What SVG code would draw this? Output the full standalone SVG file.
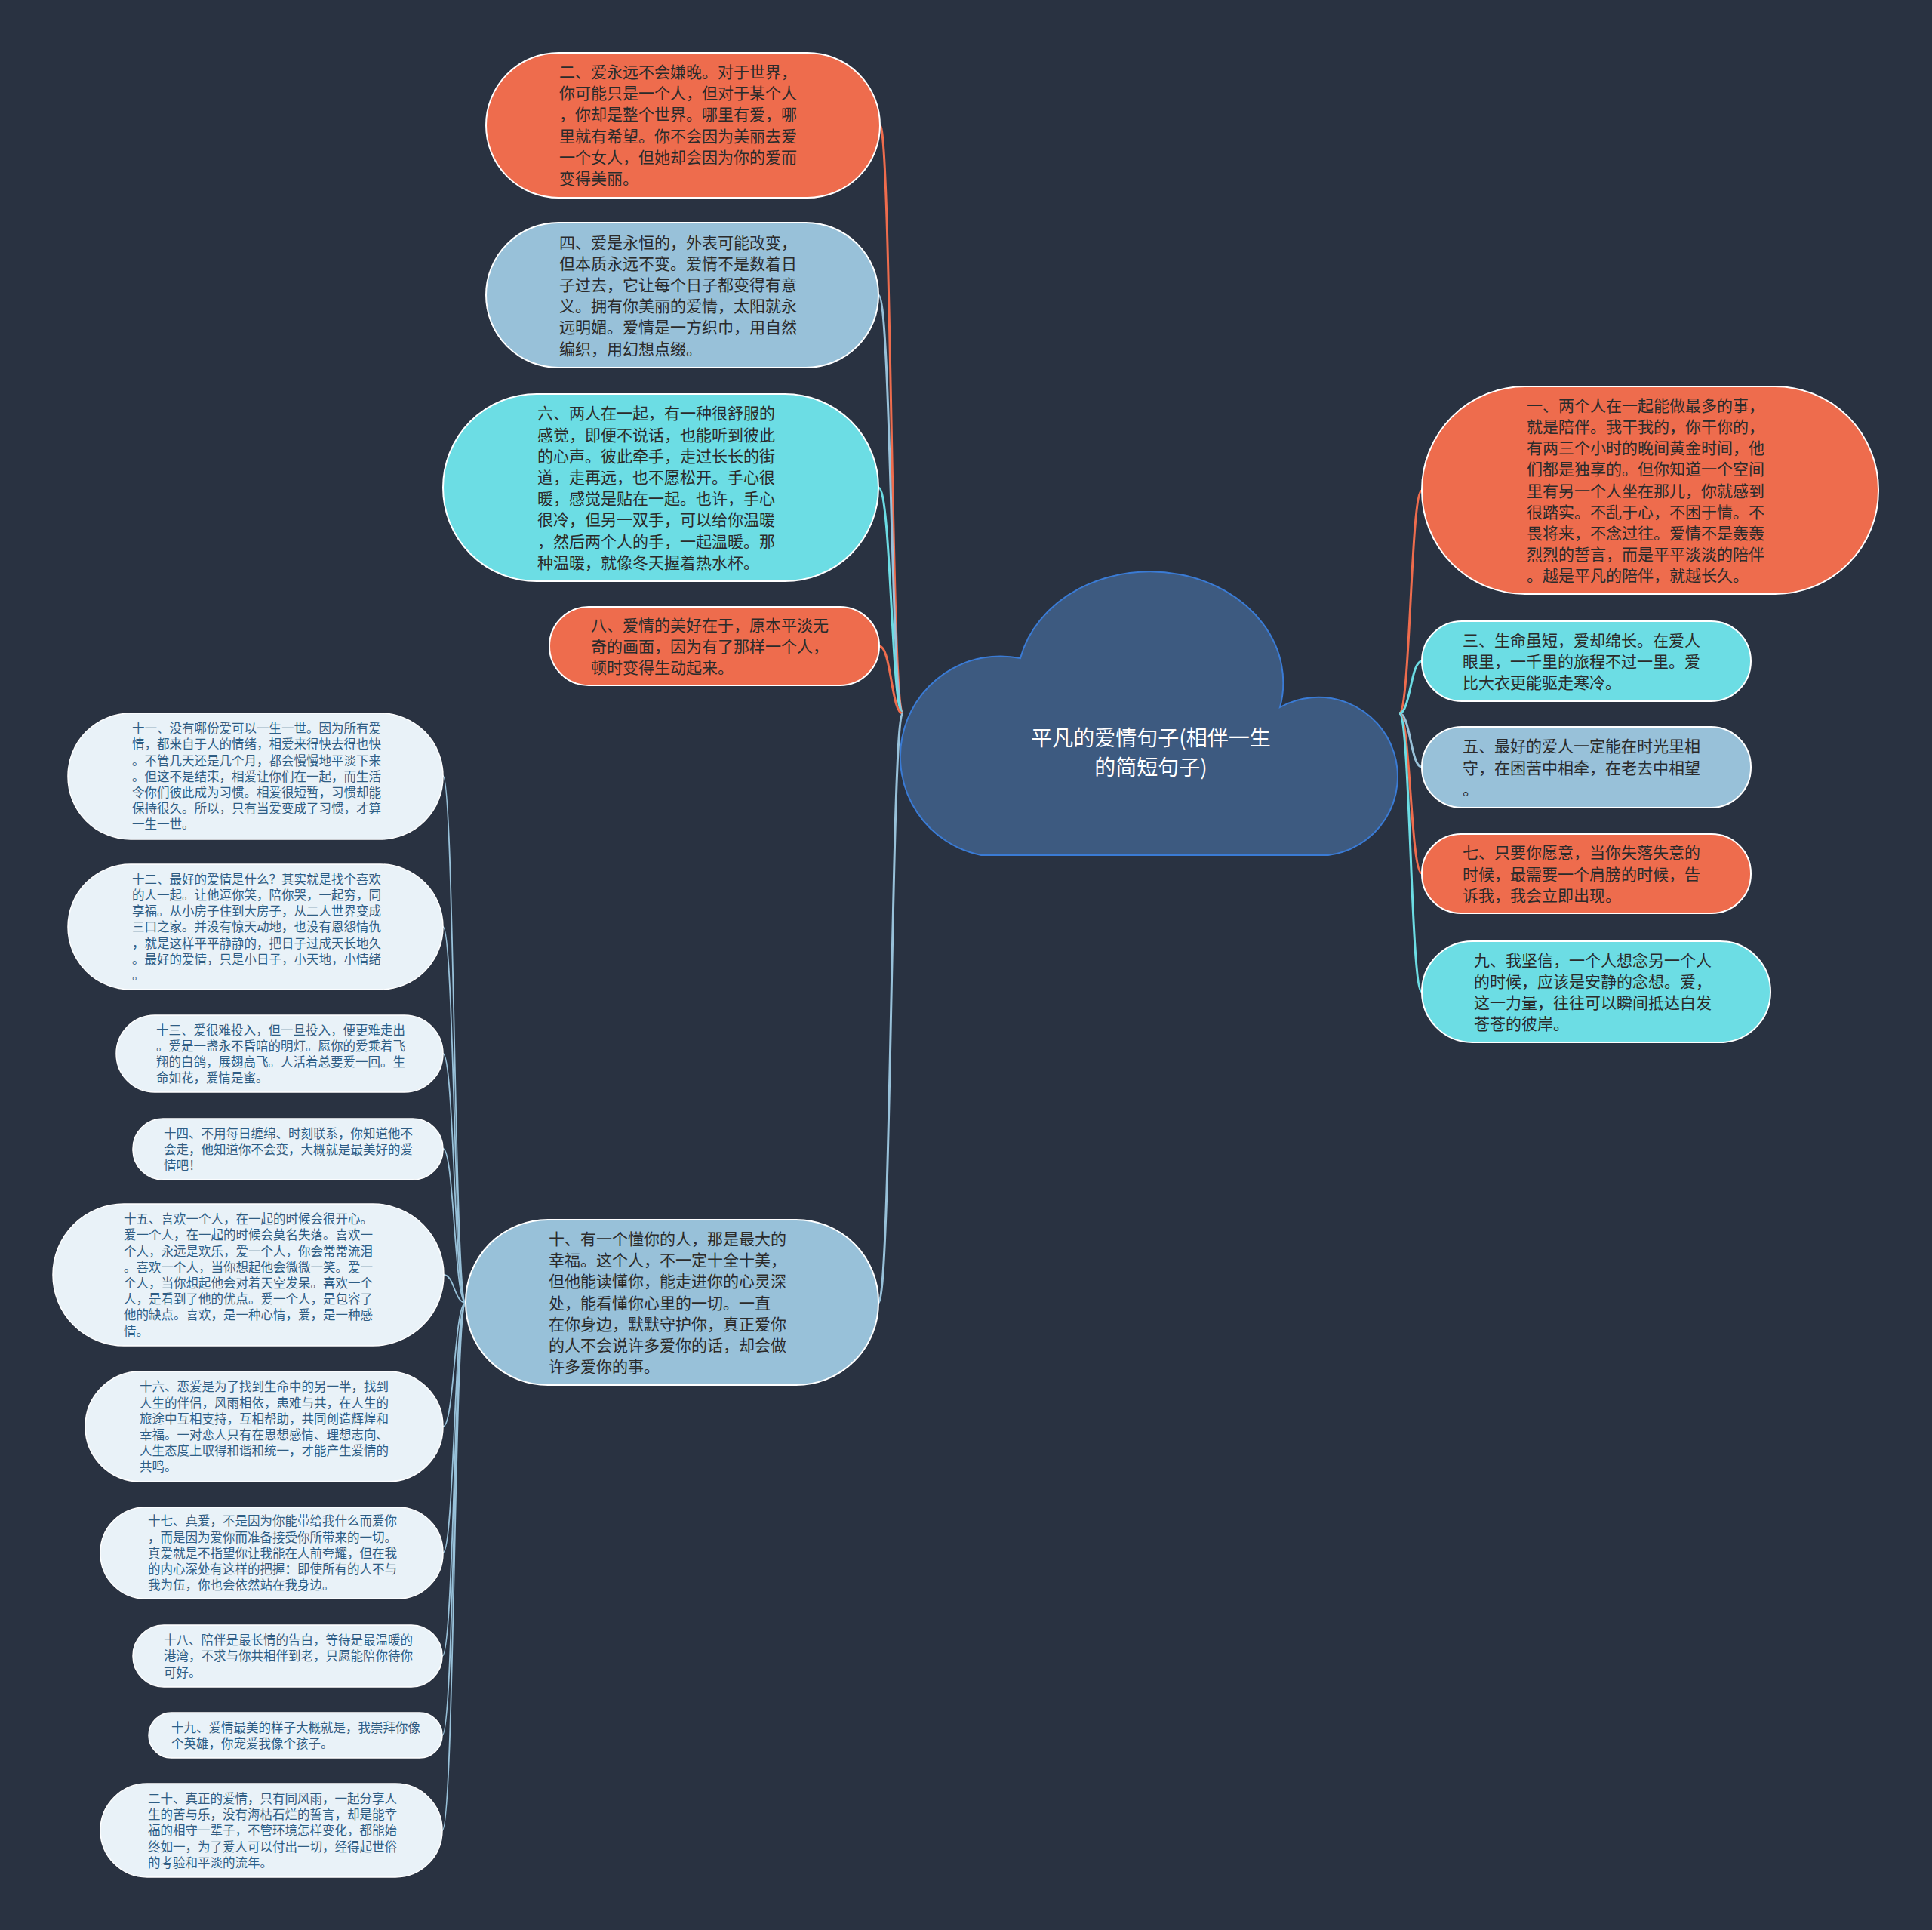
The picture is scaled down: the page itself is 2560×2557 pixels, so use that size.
<svg xmlns="http://www.w3.org/2000/svg" width="2560" height="2557" viewBox="0 0 2560 2557">
<style>
text{font-family:"Noto Sans CJK SC","Noto Sans",sans-serif}
.t{font-size:21px;fill:#2b2b2b}
.s{font-size:16.5px;fill:#2f5d84}
.c{font-size:28px;fill:#ffffff}
.or{fill:#ee6c4d;stroke:#ffffff;stroke-width:2}
.lb{fill:#98c1d9;stroke:#ffffff;stroke-width:2}
.cy{fill:#6cdde4;stroke:#ffffff;stroke-width:2}
.wh{fill:#e9f2f8;stroke:#ffffff;stroke-width:1.5}
.k{fill:none;stroke-width:3}
.ks{fill:none;stroke:#98c1d9;stroke-width:1.8}
</style>
<rect width="2560" height="2557" fill="#293241"/>
<g id="connectors">
<path class="k" stroke="#ee6c4d" d="M1196 945 C1181 945,1181 166,1166 166"/>
<path class="k" stroke="#98c1d9" d="M1196 945 C1181 945,1181 391,1164 391"/>
<path class="k" stroke="#6cdde4" d="M1196 945 C1181 945,1181 646,1164 646"/>
<path class="k" stroke="#ee6c4d" d="M1196 945 C1181 945,1181 856,1165 856"/>
<path class="k" stroke="#98c1d9" d="M1196 945 C1181 945,1181 1726,1164 1726"/>
<path class="k" stroke="#ee6c4d" d="M1854 945 C1869 945,1869 650,1884 650"/>
<path class="k" stroke="#6cdde4" d="M1854 945 C1869 945,1869 876,1884 876"/>
<path class="k" stroke="#98c1d9" d="M1854 945 C1869 945,1869 1016,1884 1016"/>
<path class="k" stroke="#ee6c4d" d="M1854 945 C1869 945,1869 1157,1884 1157"/>
<path class="k" stroke="#6cdde4" d="M1854 945 C1869 945,1869 1314,1884 1314"/>
<path class="ks" d="M617 1726 C602 1726,602 1028,587 1028"/>
<path class="ks" d="M617 1726 C602 1726,602 1228,587 1228"/>
<path class="ks" d="M617 1726 C602 1726,602 1396,587 1396"/>
<path class="ks" d="M617 1726 C602 1726,602 1522,587 1522"/>
<path class="ks" d="M617 1726 C602 1726,602 1689,588 1689"/>
<path class="ks" d="M617 1726 C602 1726,602 1890,587 1890"/>
<path class="ks" d="M617 1726 C602 1726,602 2057,587 2057"/>
<path class="ks" d="M617 1726 C602 1726,602 2194,586 2194"/>
<path class="ks" d="M617 1726 C602 1726,602 2299,586 2299"/>
<path class="ks" d="M617 1726 C602 1726,602 2425,586 2425"/>
</g>
<g id="root">
<path d="M1300 1133 A133 133 0 1 1 1352 872 A176 147 0 0 1 1696 937 A105 105 0 1 1 1760 1133 Z" fill="#3d5a80" stroke="#3a7bd5" stroke-width="2"/>
<text class="c" text-anchor="middle"><tspan x="1525" y="988">平凡的爱情句子(相伴一生</tspan><tspan x="1525" y="1027">的简短句子)</tspan></text>
</g>
<g id="n2">
<rect class="or" x="644" y="70" width="522" height="192" rx="96"/>
<text class="t"><tspan x="741" y="103">二、爱永远不会嫌晚。对于世界，</tspan><tspan x="741" dy="28.2">你可能只是一个人，但对于某个人</tspan><tspan x="741" dy="28.2">，你却是整个世界。哪里有爱，哪</tspan><tspan x="741" dy="28.2">里就有希望。你不会因为美丽去爱</tspan><tspan x="741" dy="28.2">一个女人，但她却会因为你的爱而</tspan><tspan x="741" dy="28.2">变得美丽。</tspan></text>
</g>
<g id="n4">
<rect class="lb" x="644" y="295" width="520" height="192" rx="96"/>
<text class="t"><tspan x="741" y="328.5">四、爱是永恒的，外表可能改变，</tspan><tspan x="741" dy="28.2">但本质永远不变。爱情不是数着日</tspan><tspan x="741" dy="28.2">子过去，它让每个日子都变得有意</tspan><tspan x="741" dy="28.2">义。拥有你美丽的爱情，太阳就永</tspan><tspan x="741" dy="28.2">远明媚。爱情是一方织巾，用自然</tspan><tspan x="741" dy="28.2">编织，用幻想点缀。</tspan></text>
</g>
<g id="n6">
<rect class="cy" x="587" y="522" width="577" height="248" rx="124"/>
<text class="t"><tspan x="712" y="555.3">六、两人在一起，有一种很舒服的</tspan><tspan x="712" dy="28.2">感觉，即便不说话，也能听到彼此</tspan><tspan x="712" dy="28.2">的心声。彼此牵手，走过长长的街</tspan><tspan x="712" dy="28.2">道，走再远，也不愿松开。手心很</tspan><tspan x="712" dy="28.2">暖，感觉是贴在一起。也许，手心</tspan><tspan x="712" dy="28.2">很冷，但另一双手，可以给你温暖</tspan><tspan x="712" dy="28.2">，然后两个人的手，一起温暖。那</tspan><tspan x="712" dy="28.2">种温暖，就像冬天握着热水杯。</tspan></text>
</g>
<g id="n8">
<rect class="or" x="728" y="804" width="437" height="104" rx="52"/>
<text class="t"><tspan x="783" y="835.8">八、爱情的美好在于，原本平淡无</tspan><tspan x="783" dy="28.2">奇的画面，因为有了那样一个人，</tspan><tspan x="783" dy="28.2">顿时变得生动起来。</tspan></text>
</g>
<g id="n10">
<rect class="lb" x="617" y="1616" width="547" height="219" rx="109"/>
<text class="t"><tspan x="727" y="1649">十、有一个懂你的人，那是最大的</tspan><tspan x="727" dy="28.2">幸福。这个人，不一定十全十美，</tspan><tspan x="727" dy="28.2">但他能读懂你，能走进你的心灵深</tspan><tspan x="727" dy="28.2">处，能看懂你心里的一切。一直</tspan><tspan x="727" dy="28.2">在你身边，默默守护你，真正爱你</tspan><tspan x="727" dy="28.2">的人不会说许多爱你的话，却会做</tspan><tspan x="727" dy="28.2">许多爱你的事。</tspan></text>
</g>
<g id="n1">
<rect class="or" x="1884" y="512" width="605" height="275" rx="137"/>
<text class="t"><tspan x="2023" y="544.7">一、两个人在一起能做最多的事，</tspan><tspan x="2023" dy="28.2">就是陪伴。我干我的，你干你的，</tspan><tspan x="2023" dy="28.2">有两三个小时的晚间黄金时间，他</tspan><tspan x="2023" dy="28.2">们都是独享的。但你知道一个空间</tspan><tspan x="2023" dy="28.2">里有另一个人坐在那儿，你就感到</tspan><tspan x="2023" dy="28.2">很踏实。不乱于心，不困于情。不</tspan><tspan x="2023" dy="28.2">畏将来，不念过往。爱情不是轰轰</tspan><tspan x="2023" dy="28.2">烈烈的誓言，而是平平淡淡的陪伴</tspan><tspan x="2023" dy="28.2">。越是平凡的陪伴，就越长久。</tspan></text>
</g>
<g id="n3">
<rect class="cy" x="1884" y="823" width="436" height="106" rx="53"/>
<text class="t"><tspan x="1938" y="855.8">三、生命虽短，爱却绵长。在爱人</tspan><tspan x="1938" dy="28.2">眼里，一千里的旅程不过一里。爱</tspan><tspan x="1938" dy="28.2">比大衣更能驱走寒冷。</tspan></text>
</g>
<g id="n5">
<rect class="lb" x="1884" y="963" width="436" height="107" rx="53"/>
<text class="t"><tspan x="1938" y="996.3">五、最好的爱人一定能在时光里相</tspan><tspan x="1938" dy="28.2">守，在困苦中相牵，在老去中相望</tspan><tspan x="1938" dy="28.2">。</tspan></text>
</g>
<g id="n7">
<rect class="or" x="1884" y="1105" width="436" height="105" rx="52"/>
<text class="t"><tspan x="1938" y="1137.3">七、只要你愿意，当你失落失意的</tspan><tspan x="1938" dy="28.2">时候，最需要一个肩膀的时候，告</tspan><tspan x="1938" dy="28.2">诉我，我会立即出现。</tspan></text>
</g>
<g id="n9">
<rect class="cy" x="1884" y="1247" width="462" height="134" rx="67"/>
<text class="t"><tspan x="1953" y="1279.7">九、我坚信，一个人想念另一个人</tspan><tspan x="1953" dy="28.2">的时候，应该是安静的念想。爱，</tspan><tspan x="1953" dy="28.2">这一力量，往往可以瞬间抵达白发</tspan><tspan x="1953" dy="28.2">苍苍的彼岸。</tspan></text>
</g>
<g id="n11">
<rect class="wh" x="90" y="945" width="497" height="167" rx="83"/>
<text class="s"><tspan x="175" y="971.2">十一、没有哪份爱可以一生一世。因为所有爱</tspan><tspan x="175" dy="21.2">情，都来自于人的情绪，相爱来得快去得也快</tspan><tspan x="175" dy="21.2">。不管几天还是几个月，都会慢慢地平淡下来</tspan><tspan x="175" dy="21.2">。但这不是结束，相爱让你们在一起，而生活</tspan><tspan x="175" dy="21.2">令你们彼此成为习惯。相爱很短暂，习惯却能</tspan><tspan x="175" dy="21.2">保持很久。所以，只有当爱变成了习惯，才算</tspan><tspan x="175" dy="21.2">一生一世。</tspan></text>
</g>
<g id="n12">
<rect class="wh" x="90" y="1145" width="497" height="166" rx="83"/>
<text class="s"><tspan x="175" y="1170.7">十二、最好的爱情是什么？其实就是找个喜欢</tspan><tspan x="175" dy="21.2">的人一起。让他逗你笑，陪你哭，一起穷，同</tspan><tspan x="175" dy="21.2">享福。从小房子住到大房子，从二人世界变成</tspan><tspan x="175" dy="21.2">三口之家。并没有惊天动地，也没有恩怨情仇</tspan><tspan x="175" dy="21.2">，就是这样平平静静的，把日子过成天长地久</tspan><tspan x="175" dy="21.2">。最好的爱情，只是小日子，小天地，小情绪</tspan><tspan x="175" dy="21.2">。</tspan></text>
</g>
<g id="n13">
<rect class="wh" x="154" y="1345" width="433" height="102" rx="51"/>
<text class="s"><tspan x="207" y="1370.5">十三、爱很难投入，但一旦投入，便更难走出</tspan><tspan x="207" dy="21.2">。爱是一盏永不昏暗的明灯。愿你的爱乘着飞</tspan><tspan x="207" dy="21.2">翔的白鸽，展翅高飞。人活着总要爱一回。生</tspan><tspan x="207" dy="21.2">命如花，爱情是蜜。</tspan></text>
</g>
<g id="n14">
<rect class="wh" x="176" y="1482" width="411" height="81" rx="40"/>
<text class="s"><tspan x="217" y="1507.6">十四、不用每日缠绵、时刻联系，你知道他不</tspan><tspan x="217" dy="21.2">会走，他知道你不会变，大概就是最美好的爱</tspan><tspan x="217" dy="21.2">情吧！</tspan></text>
</g>
<g id="n15">
<rect class="wh" x="70" y="1595" width="518" height="188" rx="94"/>
<text class="s"><tspan x="164" y="1621.1">十五、喜欢一个人，在一起的时候会很开心。</tspan><tspan x="164" dy="21.2">爱一个人，在一起的时候会莫名失落。喜欢一</tspan><tspan x="164" dy="21.2">个人，永远是欢乐，爱一个人，你会常常流泪</tspan><tspan x="164" dy="21.2">。喜欢一个人，当你想起他会微微一笑。爱一</tspan><tspan x="164" dy="21.2">个人，当你想起他会对着天空发呆。喜欢一个</tspan><tspan x="164" dy="21.2">人，是看到了他的优点。爱一个人，是包容了</tspan><tspan x="164" dy="21.2">他的缺点。喜欢，是一种心情，爱，是一种感</tspan><tspan x="164" dy="21.2">情。</tspan></text>
</g>
<g id="n16">
<rect class="wh" x="113" y="1817" width="474" height="146" rx="73"/>
<text class="s"><tspan x="185" y="1843.3">十六、恋爱是为了找到生命中的另一半，找到</tspan><tspan x="185" dy="21.2">人生的伴侣，风雨相依，患难与共，在人生的</tspan><tspan x="185" dy="21.2">旅途中互相支持，互相帮助，共同创造辉煌和</tspan><tspan x="185" dy="21.2">幸福。一对恋人只有在思想感情、理想志向、</tspan><tspan x="185" dy="21.2">人生态度上取得和谐和统一，才能产生爱情的</tspan><tspan x="185" dy="21.2">共鸣。</tspan></text>
</g>
<g id="n17">
<rect class="wh" x="133" y="1997" width="454" height="121" rx="60"/>
<text class="s"><tspan x="196" y="2021.3">十七、真爱，不是因为你能带给我什么而爱你</tspan><tspan x="196" dy="21.2">，而是因为爱你而准备接受你所带来的一切。</tspan><tspan x="196" dy="21.2">真爱就是不指望你让我能在人前夸耀，但在我</tspan><tspan x="196" dy="21.2">的内心深处有这样的把握：即使所有的人不与</tspan><tspan x="196" dy="21.2">我为伍，你也会依然站在我身边。</tspan></text>
</g>
<g id="n18">
<rect class="wh" x="176" y="2153" width="410" height="82" rx="41"/>
<text class="s"><tspan x="217" y="2179.1">十八、陪伴是最长情的告白，等待是最温暖的</tspan><tspan x="217" dy="21.2">港湾，不求与你共相伴到老，只愿能陪你待你</tspan><tspan x="217" dy="21.2">可好。</tspan></text>
</g>
<g id="n19">
<rect class="wh" x="197" y="2269" width="389" height="60" rx="30"/>
<text class="s"><tspan x="227" y="2294.7">十九、爱情最美的样子大概就是，我崇拜你像</tspan><tspan x="227" dy="21.2">个英雄，你宠爱我像个孩子。</tspan></text>
</g>
<g id="n20">
<rect class="wh" x="133" y="2363" width="453" height="124" rx="62"/>
<text class="s"><tspan x="196" y="2388.9">二十、真正的爱情，只有同风雨，一起分享人</tspan><tspan x="196" dy="21.2">生的苦与乐，没有海枯石烂的誓言，却是能幸</tspan><tspan x="196" dy="21.2">福的相守一辈子，不管环境怎样变化，都能始</tspan><tspan x="196" dy="21.2">终如一，为了爱人可以付出一切，经得起世俗</tspan><tspan x="196" dy="21.2">的考验和平淡的流年。</tspan></text>
</g>
</svg>
